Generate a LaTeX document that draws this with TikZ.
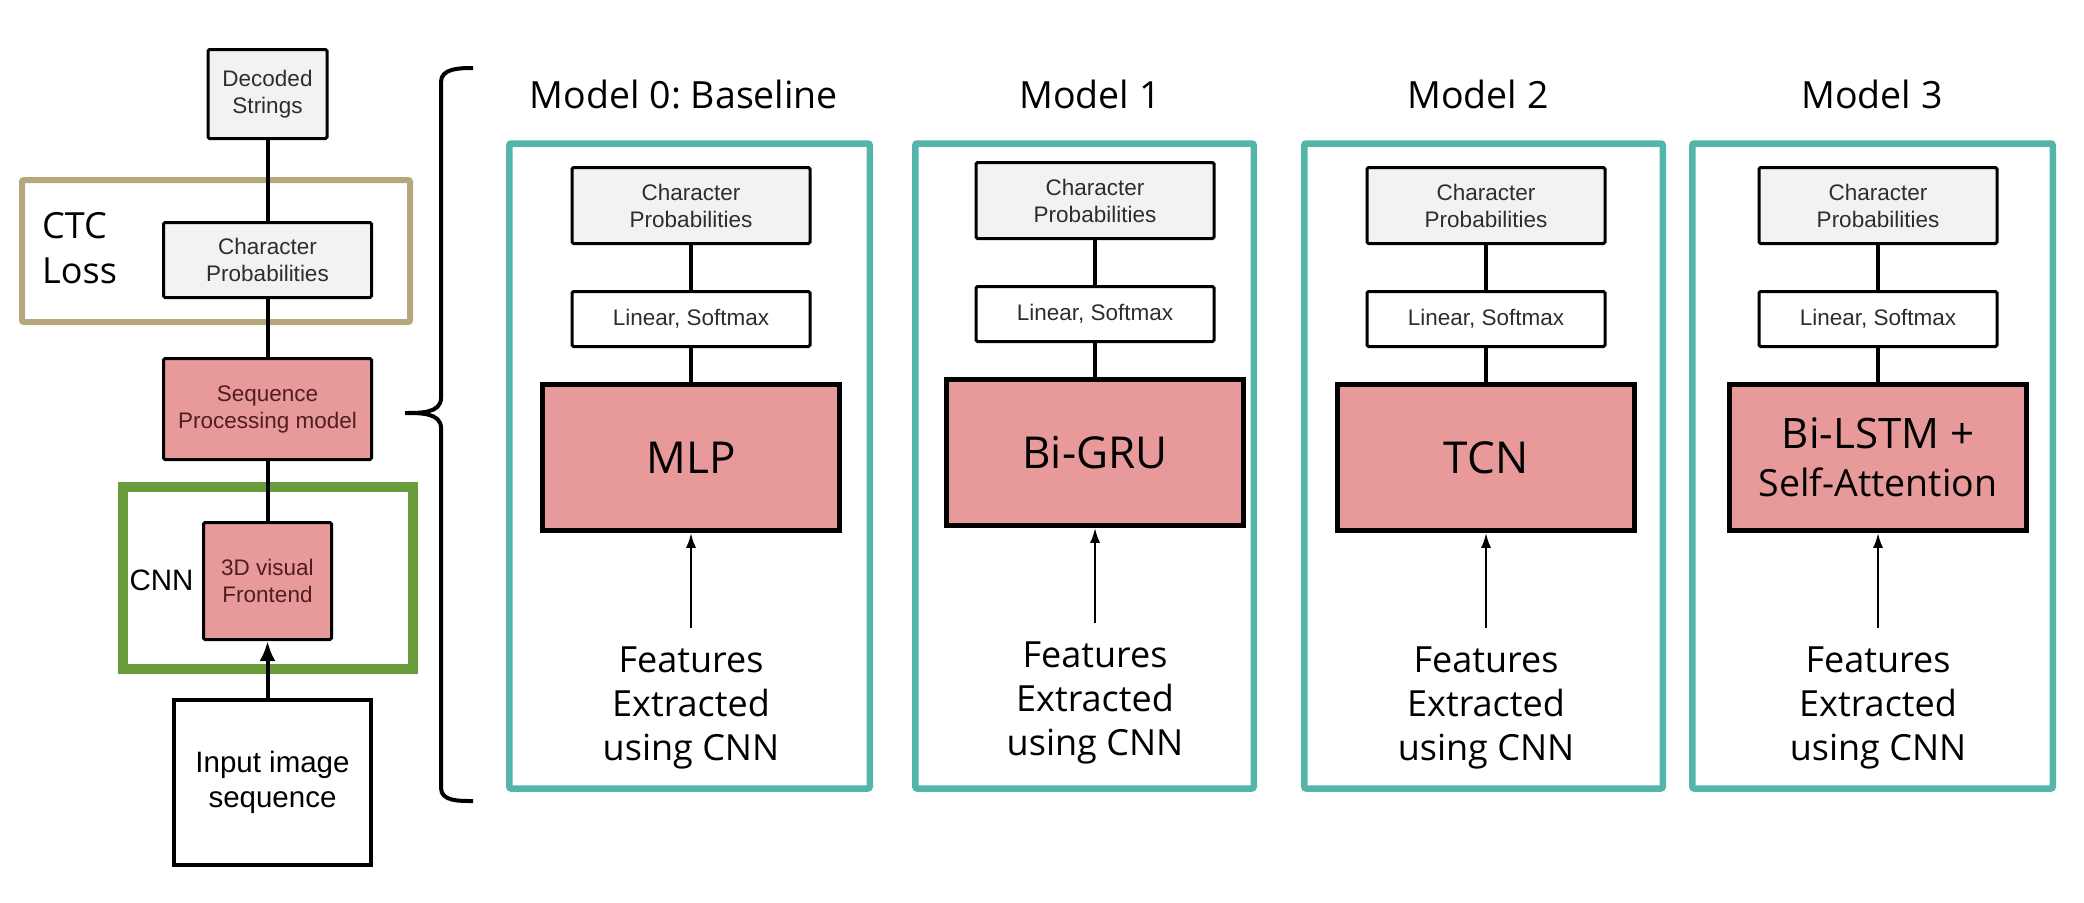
\documentclass[tikz,border=0pt]{standalone}
\usepackage{fontspec}
\setmainfont{Open Sans}
\newfontfamily\arialfont{Liberation Sans}
\usepackage{tikz}
\usetikzlibrary{arrows.meta}
\frenchspacing
\definecolor{cTeal}{RGB}{84,182,171}
\definecolor{cPink}{RGB}{232,153,154}
\definecolor{cGrey}{RGB}{242,242,242}
\definecolor{cTan}{RGB}{182,167,124}
\definecolor{cGreen}{RGB}{106,156,60}
\definecolor{cInk}{RGB}{45,45,45}
\definecolor{cRedInk}{RGB}{80,30,30}

\begin{document}
\begin{tikzpicture}[x=1pt, y=-1pt,
		blk/.style={draw, line width=3pt, rounded corners=1.5pt, inner sep=0pt, align=center, text=cInk, font=\arialfont\fontsize{22.5}{27}\selectfont},
		probbox/.style={blk, fill=cGrey, minimum width=238pt, minimum height=76pt},
		linbox/.style={blk, fill=white, minimum width=238pt, minimum height=55pt},
		netbox/.style={draw, line width=4.5pt, fill=cPink, inner sep=0pt, align=center, minimum width=297pt, minimum height=146pt, font=\fontsize{44}{48}\selectfont},
		panel/.style={draw=cTeal, line width=6.5pt, rounded corners=2pt, minimum height=645pt},
		title/.style={anchor=base, font=\fontsize{37.5}{45}\selectfont},
		feat/.style={align=center, inner xsep=0pt, inner ysep=19pt, font=\fontsize{36}{44}\selectfont},
		link/.style={line width=3.5pt},
		feed/.style={line width=2.5pt, -{Latex[length=15pt,width=10pt]}}]
	\useasboundingbox (0,0) rectangle (2084,902);

	\draw[cTan, line width=6pt, rounded corners=2pt] (22,180) rectangle (410,322);
	\draw[cGreen, line width=10pt] (123,487) rectangle (413,669);
	\node[anchor=west, inner sep=0pt, align=left, font=\fontsize{36}{45}\selectfont] (ctc) at (42,248) {CTC\\Loss};
	\node[inner sep=0pt, font=\arialfont\fontsize{29.5}{35}\selectfont] (cnn) at (161.5,580) {CNN};

	\node[blk, fill=cGrey, minimum width=119pt, minimum height=89pt] (dec) at (267.5,94) {Decoded\\Strings};
	\node[blk, fill=cGrey, minimum width=208pt, minimum height=75pt] (probL) at (267.5,260) {Character\\Probabilities};
	\node[blk, fill=cPink, text=cRedInk, minimum width=208pt, minimum height=101pt] (seq) at (267.5,409) {Sequence\\Processing model};
	\node[blk, fill=cPink, text=cRedInk, minimum width=128pt, minimum height=117pt] (front) at (267.5,581) {3D visual\\Frontend};
	\node[draw, line width=4pt, align=center, inner sep=0pt, minimum width=197pt, minimum height=165pt, font=\arialfont\fontsize{29.5}{35}\selectfont] (input) at (272.5,782.5) {Input image\\sequence};
	\draw[line width=4pt] (dec) -- (probL);
	\draw[line width=4pt] (probL) -- (seq);
	\draw[line width=4pt] (seq) -- (front);
	\draw[line width=4pt, -{Latex[length=20pt,width=16pt]}] (input.north -| front.south) -- (front.south);

	\coordinate (tip) at (405,413);
	\draw[line width=4pt] (473,68) to[out=180,in=90] (441,82) -- (441,398) to[out=-90,in=0] (tip) to[out=0,in=90] (441,428) -- (441,788) to[out=-90,in=180] (473,801);

	\foreach \m/\px/\pw/\bx/\tx/\dy/\ttl/\lbl in {
			0/689.5/367/691/684/0/{Model 0: Baseline}/{MLP},
			1/1084.5/345/1095/1090/-5/{Model 1}/{Bi-GRU},
			2/1483.5/365/1486/1478/0/{Model 2}/{TCN},
			3/1872.5/367/1878/1872/0/{Model 3}/{{\fontsize{42}{48}\selectfont Bi-LSTM +}\\{\fontsize{37.5}{45}\selectfont Self-Attention}}} {
		\pgfmathsetmacro{\pww}{\pw-6.5}
		\node[title] (title\m) at (\tx,108) {\ttl};
		\node[panel, minimum width=\pww pt] (panel\m) at (\px,466) {};
		\node[probbox] (prob\m) at (\bx,205.5+\dy) {Character\\Probabilities};
		\node[linbox] (lin\m) at (\bx,319+\dy) {Linear, Softmax};
		\node[netbox] (net\m) at (\bx,457.5+\dy) {\lbl};
		\node[feat] (feat\m) at (\bx,708+\dy) {Features\\Extracted\\using CNN};
		\draw[link] (prob\m) -- (lin\m);
		\draw[link] (lin\m) -- (net\m);
		\draw[feed] (feat\m.north) -- (net\m.south);
	}
\end{tikzpicture}
\end{document}
